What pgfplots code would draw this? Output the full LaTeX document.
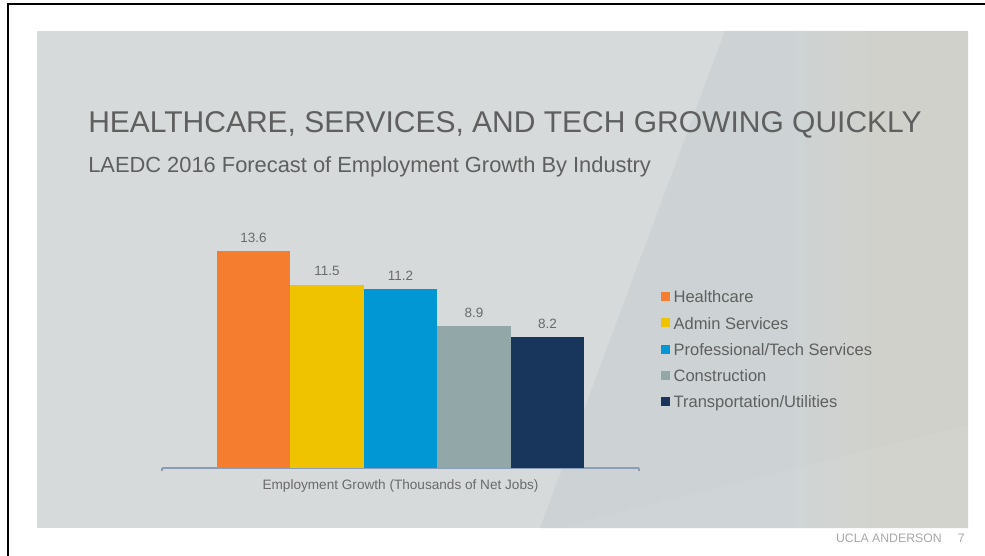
\documentclass[border=0pt]{standalone}
\usepackage{fontspec}
\setmainfont{Liberation Sans}
\usepackage{pgfplots}
\pgfplotsset{compat=1.18}
\definecolor{bgA}{HTML}{D6DADA}
\definecolor{bgB}{HTML}{CDD3D4}
\definecolor{bgC}{HTML}{D1D1CB}
\definecolor{cOrange}{HTML}{F47D30}
\definecolor{cYellow}{HTML}{F0C300}
\definecolor{cBlue}{HTML}{0097D4}
\definecolor{cGray}{HTML}{92A7A8}
\definecolor{cNavy}{HTML}{18365C}
\definecolor{axiscol}{HTML}{8A9DB8}
\definecolor{titlegray}{HTML}{5F5F5F}
\definecolor{labelgray}{HTML}{6A6A6A}
\definecolor{footgray}{HTML}{A8A8A8}
\pgfplotsset{
  sq/.style={ybar, bar width=1, bar shift=0pt, draw=none, fill=#1,
    legend image code/.code={\fill[##1,draw=none] (0pt,-1.825pt) rectangle (6.75pt,4.925pt);}},
}
\begin{document}
\begin{tikzpicture}
\begin{scope}[x=0.75pt,y=-0.75pt]
\useasboundingbox (0,0) rectangle (985,556);
\fill[white] (0,0) rectangle (985,556);
\fill[bgA] (37,31) rectangle (968,528);
\fill[bgB] (725,31) -- (968,31) -- (968,528) -- (540,528) -- cycle;
\foreach \i in {0,...,19} {
  \pgfmathsetmacro{\pc}{(\i+1)*5}
  \fill[bgC!\pc!bgB] ({790+\i*5},31) rectangle ({790+\i*5+5.5},528);
}
\fill[bgC] (890,31) rectangle (968,528);
\fill[white, opacity=0.05] (560,528) -- (968,425) -- (968,528) -- cycle;
\draw[black, line width=1.5pt] (7.5,556) -- (7.5,4) -- (985,4);
\node[anchor=base west, inner sep=0, text=titlegray, font=\fontsize{22.5}{26}\selectfont] at (88,133) {HEALTHCARE, SERVICES, AND TECH GROWING QUICKLY};
\node[anchor=base west, inner sep=0, text=titlegray, font=\fontsize{16.4}{20}\selectfont] at (88,172.7) {LAEDC 2016 Forecast of Employment Growth By Industry};
\node[anchor=base east, inner sep=0, text=footgray, font=\fontsize{9.2}{11}\selectfont] at (942,542) {UCLA ANDERSON};
\node[anchor=base east, inner sep=0, text=footgray, font=\fontsize{9.2}{11}\selectfont] at (965,542) {7};
\coordinate (axorig) at (162,468);
\end{scope}
\begin{axis}[
  at={(axorig)}, anchor=south west, scale only axis,
  width=357.75pt, height=179.5pt,
  xmin=-1.247, xmax=5.247, ymin=0, ymax=15,
  clip=false,
  axis x line*=bottom, axis y line=none,
  x axis line style={axiscol, line width=1.1pt},
  xtick={-1.247,5.247}, xticklabels={}, ytick=\empty,
  tick align=outside, major tick length=2.5pt,
  every tick/.style={axiscol, line width=1.1pt},
  /pgf/number format/assume math mode=true,
  nodes near coords,
  every node near coord/.append style={font=\fontsize{10.1}{12}\selectfont, text=labelgray, anchor=south, inner sep=0pt, yshift=6.3pt},
  xlabel={Employment Growth (Thousands of Net Jobs)},
  xlabel style={at={(axis description cs:0.5,0)}, anchor=base, yshift=-15.75pt, inner sep=0pt, font=\fontsize{10.2}{12}\selectfont, text=labelgray},
  legend style={at={(axis description cs:1.0461,0.7408)}, anchor=north west, draw=none, fill=none,
    inner xsep=0pt, inner ysep=0pt, row sep=8.19pt, column sep=2.5pt,
    font=\fontsize{12.4}{14}\selectfont, text=titlegray,
    nodes={inner sep=0pt, text height=9pt, text depth=2.5pt},
    cells={anchor=west}},
  legend cell align=left,
]
\addplot[sq=cOrange] coordinates {(0,13.6)};
\addplot[sq=cYellow] coordinates {(1,11.5)};
\addplot[sq=cBlue] coordinates {(2,11.2)};
\addplot[sq=cGray] coordinates {(3,8.9)};
\addplot[sq=cNavy] coordinates {(4,8.2)};
\legend{Healthcare, Admin Services, Professional/Tech Services, Construction, Transportation/Utilities}
\end{axis}
\end{tikzpicture}
\end{document}
